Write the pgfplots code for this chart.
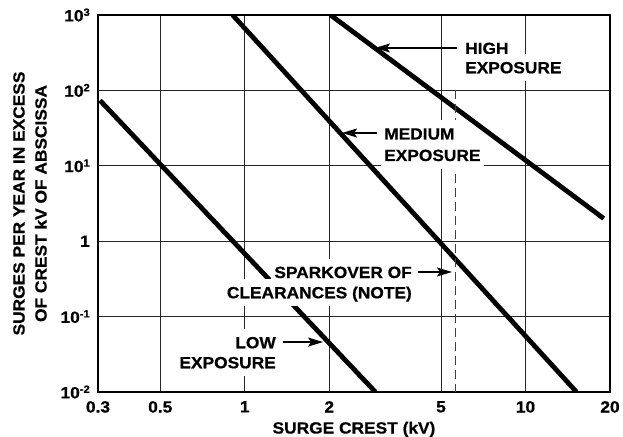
\documentclass[border=0pt]{standalone}
\usepackage{fontspec}
\setmainfont{Liberation Sans}[FakeStretch=1.07, BoldFeatures={FakeBold=0.7}]
\usepackage{pgfplots}
\pgfplotsset{compat=1.18}
\usetikzlibrary{arrows.meta}
\newcommand\sps[1]{\raisebox{5.5pt}{\fontsize{10.5}{10.5}\selectfont #1}}
\begin{document}
\fontsize{16}{21}\selectfont\bfseries
\begin{tikzpicture}[
  lab/.style={fill=white, inner xsep=3pt, inner ysep=8pt, text height=11.5pt, text depth=0pt, font=\fontsize{16.2}{16}\selectfont\bfseries},
  arr/.style={line width=1.1pt, -{Stealth[length=15pt,width=9pt,inset=3pt]}}
]
\path[use as bounding box] (-98pt,-44pt) rectangle (525pt,392pt);
\begin{axis}[
  at={(0,0)}, anchor=south west,
  scale only axis, width=512pt, height=377pt,
  xmode=log, ymode=log,
  xmin=0.3, xmax=20, ymin=0.01, ymax=1000,
  xtick={0.3,0.5,1,2,5,10,20},
  xticklabels={0.3,0.5,1,2,5,10,20},
  ytick={0.01,0.1,1,10,100,1000},
  yticklabels={10\sps{-2},10\sps{-1},1,10\sps{1},10\sps{2},10\sps{3}},
  minor xtick={}, minor ytick={},
  major tick length=0pt, minor tick length=0pt,
  grid=major,
  major grid style={black!85, line width=1pt},
  axis line style={black, line width=1.2pt},
  /pgf/number format/assume math mode=true,
  tick label style={font=\fontsize{16.2}{16}\selectfont\bfseries, inner sep=0pt},
  xticklabel style={yshift=-9pt},
  yticklabel style={xshift=-8pt},
  xlabel={SURGE CREST (kV)},
  ylabel={SURGES PER YEAR IN EXCESS\\OF CREST kV OF ABSCISSA},
  label style={font=\fontsize{16.2}{22}\selectfont\bfseries},
  xlabel style={at={(axis description cs:0.5,-0.0785)}, anchor=north, inner sep=0pt},
  ylabel style={at={(axis description cs:-0.1328,0.5)}, anchor=center, align=center, inner sep=0pt},
]
% surge curves
\addplot[black, mark=none, line width=4.8pt] coordinates {(0.305,73.6) (2.92,0.01)};
\addplot[black, mark=none, line width=4.8pt] coordinates {(0.905,1000) (15.2,0.01)};
\addplot[black, mark=none, line width=4.8pt] coordinates {(2.02,1000) (19.0,2.0)};
% sparkover of clearances
\addplot[black!75, mark=none, line width=1.6pt, dash pattern=on 9pt off 5pt] coordinates {(5.63,100) (5.63,0.01)};

% labels
\node[lab, anchor=base west] at (axis cs:5.94,304) {HIGH};
\node[lab, anchor=base west] at (axis cs:5.94,168.6) {EXPOSURE};
\node[lab, anchor=base west] at (axis cs:3.057,22.33) {MEDIUM};
\node[lab, anchor=base west] at (axis cs:3.057,11.58) {EXPOSURE};
\node[lab, anchor=base east] at (axis cs:4.04,0.325) {SPARKOVER OF};
\node[lab, anchor=base east] at (axis cs:4.04,0.1749) {CLEARANCES (NOTE)};
\node[lab, anchor=base east] at (axis cs:1.324,0.0380) {LOW};
\node[lab, anchor=base east] at (axis cs:1.324,0.02063) {EXPOSURE};

% arrows
\draw[arr] (axis cs:5.70,365) -- (axis cs:2.91,365);
\draw[arr] (axis cs:2.958,27.23) -- (axis cs:2.221,27.23);
\draw[arr] (axis cs:4.14,0.3905) -- (axis cs:5.47,0.3905);
\draw[arr] (axis cs:1.368,0.0460) -- (axis cs:1.90,0.0460);
\end{axis}
\end{tikzpicture}
\end{document}
